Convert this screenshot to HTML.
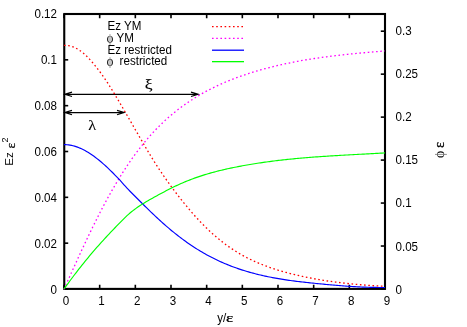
<!DOCTYPE html>
<html><head><meta charset="utf-8"><title>plot</title>
<style>
html,body{margin:0;padding:0;background:#fff;}
body{width:467px;height:327px;overflow:hidden;}
svg{display:block;opacity:0.999;will-change:transform;}
text{font-family:"Liberation Sans",sans-serif;font-size:11.6px;fill:#000;}
.sym{font-family:"Liberation Serif",serif;stroke:#000;stroke-width:0.25px;}
</style></head><body>
<svg width="467" height="327" viewBox="0 0 467 327">
<rect width="467" height="327" fill="#fff"/>
<g stroke="#000" stroke-width="1.6" fill="none">
<path d="M64.00,289.00 v-4.2 M64.00,14.00 v4.2"/>
<path d="M99.67,289.00 v-4.2 M99.67,14.00 v4.2"/>
<path d="M135.33,289.00 v-4.2 M135.33,14.00 v4.2"/>
<path d="M171.00,289.00 v-4.2 M171.00,14.00 v4.2"/>
<path d="M206.67,289.00 v-4.2 M206.67,14.00 v4.2"/>
<path d="M242.33,289.00 v-4.2 M242.33,14.00 v4.2"/>
<path d="M278.00,289.00 v-4.2 M278.00,14.00 v4.2"/>
<path d="M313.67,289.00 v-4.2 M313.67,14.00 v4.2"/>
<path d="M349.33,289.00 v-4.2 M349.33,14.00 v4.2"/>
<path d="M385.00,289.00 v-4.2 M385.00,14.00 v4.2"/>
<path d="M64.00,289.00 h4.2"/>
<path d="M64.00,243.17 h4.2"/>
<path d="M64.00,197.33 h4.2"/>
<path d="M64.00,151.50 h4.2"/>
<path d="M64.00,105.67 h4.2"/>
<path d="M64.00,59.83 h4.2"/>
<path d="M64.00,14.00 h4.2"/>
<path d="M385.00,289.00 h-4.2"/>
<path d="M385.00,246.03 h-4.2"/>
<path d="M385.00,203.06 h-4.2"/>
<path d="M385.00,160.09 h-4.2"/>
<path d="M385.00,117.12 h-4.2"/>
<path d="M385.00,74.16 h-4.2"/>
<path d="M385.00,31.19 h-4.2"/>
</g>
<rect x="64.25" y="14.0" width="320.75" height="274.9" fill="none" stroke="#000" stroke-width="2.1"/>
<g stroke="#000" stroke-width="1.15" fill="none" stroke-linejoin="miter">
<path d="M64.8,94.3H198.2 M72.0,92.1L64.8,94.3L72.0,96.5 M191.0,92.1L198.2,94.3L191.0,96.5"/>
<path d="M64.8,112.55H124.2 M72.0,110.35L64.8,112.55L72.0,114.75 M117.0,110.35L124.2,112.55L117.0,114.75"/>
</g>
<g fill="none" stroke-linejoin="round">
<path d="M64.00,45.41 L65.50,45.37 L67.00,45.45 L68.50,45.63 L70.00,45.92 L71.50,46.33 L73.00,46.84 L74.50,47.45 L76.00,48.18 L77.50,49.00 L79.00,49.93 L80.50,50.96 L82.00,52.09 L83.50,53.31 L85.00,54.63 L86.50,56.04 L88.00,57.54 L89.50,59.13 L91.00,60.79 L92.50,62.52 L94.00,64.31 L95.50,66.16 L97.00,68.06 L98.50,69.99 L100.00,71.97 L101.50,74.00 L103.00,76.08 L104.50,78.22 L106.00,80.43 L107.50,82.71 L109.00,85.05 L110.50,87.44 L112.00,89.86 L113.50,92.32 L115.00,94.81 L116.50,97.31 L118.00,99.83 L119.50,102.37 L121.00,104.92 L122.50,107.48 L124.00,110.05 L125.50,112.63 L127.00,115.22 L128.50,117.81 L130.00,120.41 L131.50,123.01 L133.00,125.61 L134.50,128.22 L136.00,130.82 L137.50,133.42 L139.00,136.01 L140.50,138.60 L142.00,141.19 L143.50,143.76 L145.00,146.32 L146.50,148.87 L148.00,151.39 L149.50,153.89 L151.00,156.36 L152.50,158.80 L154.00,161.20 L155.50,163.56 L157.00,165.89 L158.50,168.19 L160.00,170.45 L161.50,172.68 L163.00,174.89 L164.50,177.06 L166.00,179.21 L167.50,181.33 L169.00,183.42 L170.50,185.49 L172.00,187.53 L173.50,189.55 L175.00,191.55 L176.50,193.52 L178.00,195.47 L179.50,197.40 L181.00,199.30 L182.50,201.19 L184.00,203.05 L185.50,204.89 L187.00,206.71 L188.50,208.51 L190.00,210.28 L191.50,212.03 L193.00,213.75 L194.50,215.45 L196.00,217.12 L197.50,218.77 L199.00,220.38 L200.50,221.97 L202.00,223.53 L203.50,225.07 L205.00,226.57 L206.50,228.05 L208.00,229.50 L209.50,230.92 L211.00,232.32 L212.50,233.68 L214.00,235.02 L215.50,236.32 L217.00,237.60 L218.50,238.86 L220.00,240.08 L221.50,241.28 L223.00,242.45 L224.50,243.59 L226.00,244.71 L227.50,245.80 L229.00,246.86 L230.50,247.90 L232.00,248.91 L233.50,249.90 L235.00,250.86 L236.50,251.80 L238.00,252.72 L239.50,253.61 L241.00,254.47 L242.50,255.32 L244.00,256.14 L245.50,256.94 L247.00,257.72 L248.50,258.48 L250.00,259.22 L251.50,259.94 L253.00,260.64 L254.50,261.33 L256.00,262.00 L257.50,262.65 L259.00,263.28 L260.50,263.90 L262.00,264.50 L263.50,265.09 L265.00,265.66 L266.50,266.22 L268.00,266.77 L269.50,267.31 L271.00,267.83 L272.50,268.34 L274.00,268.83 L275.50,269.32 L277.00,269.80 L278.50,270.26 L280.00,270.71 L281.50,271.16 L283.00,271.59 L284.50,272.01 L286.00,272.43 L287.50,272.83 L289.00,273.23 L290.50,273.62 L292.00,274.00 L293.50,274.37 L295.00,274.73 L296.50,275.08 L298.00,275.43 L299.50,275.77 L301.00,276.10 L302.50,276.43 L304.00,276.75 L305.50,277.06 L307.00,277.36 L308.50,277.66 L310.00,277.95 L311.50,278.24 L313.00,278.52 L314.50,278.79 L316.00,279.06 L317.50,279.32 L319.00,279.58 L320.50,279.83 L322.00,280.08 L323.50,280.32 L325.00,280.55 L326.50,280.78 L328.00,281.01 L329.50,281.23 L331.00,281.44 L332.50,281.65 L334.00,281.85 L335.50,282.05 L337.00,282.25 L338.50,282.44 L340.00,282.62 L341.50,282.80 L343.00,282.98 L344.50,283.15 L346.00,283.32 L347.50,283.48 L349.00,283.64 L350.50,283.80 L352.00,283.95 L353.50,284.09 L355.00,284.23 L356.50,284.37 L358.00,284.51 L359.50,284.64 L361.00,284.77 L362.50,284.89 L364.00,285.01 L365.50,285.13 L367.00,285.24 L368.50,285.35 L370.00,285.46 L371.50,285.57 L373.00,285.67 L374.50,285.77 L376.00,285.86 L377.50,285.95 L379.00,286.04 L380.50,286.13 L382.00,286.22 L383.50,286.30 L385.00,286.38" stroke="#ff0000" stroke-width="1.3" stroke-dasharray="1.6 2.6"/>
<path d="M64.00,289.17 L65.50,285.84 L67.00,282.51 L68.50,279.19 L70.00,275.86 L71.50,272.55 L73.00,269.23 L74.50,265.93 L76.00,262.64 L77.50,259.35 L79.00,256.09 L80.50,252.83 L82.00,249.59 L83.50,246.37 L85.00,243.17 L86.50,240.00 L88.00,236.84 L89.50,233.71 L91.00,230.60 L92.50,227.52 L94.00,224.46 L95.50,221.44 L97.00,218.44 L98.50,215.48 L100.00,212.55 L101.50,209.66 L103.00,206.80 L104.50,203.97 L106.00,201.19 L107.50,198.44 L109.00,195.72 L110.50,193.04 L112.00,190.40 L113.50,187.80 L115.00,185.23 L116.50,182.70 L118.00,180.21 L119.50,177.75 L121.00,175.33 L122.50,172.95 L124.00,170.61 L125.50,168.30 L127.00,166.03 L128.50,163.79 L130.00,161.59 L131.50,159.44 L133.00,157.31 L134.50,155.23 L136.00,153.18 L137.50,151.17 L139.00,149.20 L140.50,147.27 L142.00,145.37 L143.50,143.51 L145.00,141.69 L146.50,139.90 L148.00,138.15 L149.50,136.43 L151.00,134.75 L152.50,133.10 L154.00,131.48 L155.50,129.89 L157.00,128.34 L158.50,126.82 L160.00,125.33 L161.50,123.87 L163.00,122.44 L164.50,121.03 L166.00,119.66 L167.50,118.31 L169.00,116.99 L170.50,115.70 L172.00,114.43 L173.50,113.19 L175.00,111.97 L176.50,110.78 L178.00,109.61 L179.50,108.46 L181.00,107.34 L182.50,106.24 L184.00,105.16 L185.50,104.10 L187.00,103.06 L188.50,102.04 L190.00,101.04 L191.50,100.06 L193.00,99.10 L194.50,98.15 L196.00,97.22 L197.50,96.31 L199.00,95.41 L200.50,94.53 L202.00,93.67 L203.50,92.82 L205.00,91.99 L206.50,91.18 L208.00,90.38 L209.50,89.59 L211.00,88.82 L212.50,88.06 L214.00,87.32 L215.50,86.59 L217.00,85.88 L218.50,85.18 L220.00,84.49 L221.50,83.81 L223.00,83.15 L224.50,82.50 L226.00,81.86 L227.50,81.24 L229.00,80.62 L230.50,80.02 L232.00,79.43 L233.50,78.85 L235.00,78.28 L236.50,77.72 L238.00,77.17 L239.50,76.63 L241.00,76.10 L242.50,75.58 L244.00,75.06 L245.50,74.56 L247.00,74.07 L248.50,73.58 L250.00,73.10 L251.50,72.63 L253.00,72.17 L254.50,71.71 L256.00,71.27 L257.50,70.82 L259.00,70.39 L260.50,69.96 L262.00,69.54 L263.50,69.13 L265.00,68.72 L266.50,68.32 L268.00,67.93 L269.50,67.54 L271.00,67.16 L272.50,66.78 L274.00,66.41 L275.50,66.05 L277.00,65.69 L278.50,65.34 L280.00,64.99 L281.50,64.66 L283.00,64.32 L284.50,63.99 L286.00,63.67 L287.50,63.35 L289.00,63.04 L290.50,62.74 L292.00,62.44 L293.50,62.14 L295.00,61.85 L296.50,61.56 L298.00,61.28 L299.50,61.01 L301.00,60.74 L302.50,60.47 L304.00,60.21 L305.50,59.95 L307.00,59.70 L308.50,59.45 L310.00,59.21 L311.50,58.97 L313.00,58.74 L314.50,58.50 L316.00,58.28 L317.50,58.06 L319.00,57.84 L320.50,57.62 L322.00,57.41 L323.50,57.20 L325.00,57.00 L326.50,56.80 L328.00,56.60 L329.50,56.41 L331.00,56.22 L332.50,56.03 L334.00,55.85 L335.50,55.67 L337.00,55.49 L338.50,55.32 L340.00,55.15 L341.50,54.98 L343.00,54.81 L344.50,54.65 L346.00,54.49 L347.50,54.33 L349.00,54.17 L350.50,54.02 L352.00,53.87 L353.50,53.72 L355.00,53.57 L356.50,53.43 L358.00,53.28 L359.50,53.14 L361.00,53.00 L362.50,52.87 L364.00,52.73 L365.50,52.60 L367.00,52.46 L368.50,52.33 L370.00,52.20 L371.50,52.08 L373.00,51.95 L374.50,51.82 L376.00,51.70 L377.50,51.57 L379.00,51.45 L380.50,51.33 L382.00,51.21 L383.50,51.09 L385.00,50.97" stroke="#ff00ff" stroke-width="1.3" stroke-dasharray="1.6 2.6"/>
<path d="M64.00,144.61 L65.50,144.65 L67.00,144.75 L68.50,144.91 L70.00,145.13 L71.50,145.42 L73.00,145.76 L74.50,146.16 L76.00,146.62 L77.50,147.14 L79.00,147.72 L80.50,148.35 L82.00,149.04 L83.50,149.77 L85.00,150.56 L86.50,151.41 L88.00,152.30 L89.50,153.23 L91.00,154.22 L92.50,155.25 L94.00,156.32 L95.50,157.44 L97.00,158.59 L98.50,159.79 L100.00,161.02 L101.50,162.28 L103.00,163.59 L104.50,164.92 L106.00,166.28 L107.50,167.68 L109.00,169.10 L110.50,170.55 L112.00,172.02 L113.50,173.51 L115.00,175.03 L116.50,176.57 L118.00,178.13 L119.50,179.72 L121.00,181.35 L122.50,183.04 L124.00,184.76 L125.50,186.46 L127.00,188.12 L128.50,189.71 L130.00,191.27 L131.50,192.78 L133.00,194.28 L134.50,195.78 L136.00,197.27 L137.50,198.77 L139.00,200.26 L140.50,201.76 L142.00,203.25 L143.50,204.74 L145.00,206.22 L146.50,207.70 L148.00,209.17 L149.50,210.63 L151.00,212.08 L152.50,213.52 L154.00,214.95 L155.50,216.36 L157.00,217.76 L158.50,219.15 L160.00,220.52 L161.50,221.88 L163.00,223.22 L164.50,224.55 L166.00,225.86 L167.50,227.16 L169.00,228.43 L170.50,229.70 L172.00,230.94 L173.50,232.17 L175.00,233.38 L176.50,234.57 L178.00,235.74 L179.50,236.90 L181.00,238.04 L182.50,239.16 L184.00,240.26 L185.50,241.34 L187.00,242.41 L188.50,243.46 L190.00,244.49 L191.50,245.50 L193.00,246.49 L194.50,247.47 L196.00,248.43 L197.50,249.37 L199.00,250.29 L200.50,251.20 L202.00,252.08 L203.50,252.95 L205.00,253.81 L206.50,254.64 L208.00,255.46 L209.50,256.26 L211.00,257.05 L212.50,257.82 L214.00,258.57 L215.50,259.31 L217.00,260.03 L218.50,260.74 L220.00,261.43 L221.50,262.10 L223.00,262.76 L224.50,263.41 L226.00,264.04 L227.50,264.65 L229.00,265.26 L230.50,265.84 L232.00,266.42 L233.50,266.98 L235.00,267.53 L236.50,268.06 L238.00,268.59 L239.50,269.10 L241.00,269.59 L242.50,270.08 L244.00,270.55 L245.50,271.02 L247.00,271.47 L248.50,271.91 L250.00,272.33 L251.50,272.75 L253.00,273.16 L254.50,273.56 L256.00,273.94 L257.50,274.32 L259.00,274.69 L260.50,275.05 L262.00,275.40 L263.50,275.74 L265.00,276.07 L266.50,276.39 L268.00,276.70 L269.50,277.01 L271.00,277.31 L272.50,277.60 L274.00,277.88 L275.50,278.15 L277.00,278.42 L278.50,278.68 L280.00,278.94 L281.50,279.18 L283.00,279.42 L284.50,279.66 L286.00,279.88 L287.50,280.11 L289.00,280.32 L290.50,280.53 L292.00,280.73 L293.50,280.93 L295.00,281.13 L296.50,281.31 L298.00,281.50 L299.50,281.68 L301.00,281.85 L302.50,282.03 L304.00,282.19 L305.50,282.36 L307.00,282.52 L308.50,282.68 L310.00,282.84 L311.50,283.00 L313.00,283.15 L314.50,283.30 L316.00,283.45 L317.50,283.60 L319.00,283.74 L320.50,283.89 L322.00,284.03 L323.50,284.17 L325.00,284.31 L326.50,284.45 L328.00,284.59 L329.50,284.72 L331.00,284.86 L332.50,284.99 L334.00,285.12 L335.50,285.25 L337.00,285.38 L338.50,285.50 L340.00,285.63 L341.50,285.75 L343.00,285.87 L344.50,285.99 L346.00,286.10 L347.50,286.21 L349.00,286.31 L350.50,286.41 L352.00,286.51 L353.50,286.60 L355.00,286.69 L356.50,286.77 L358.00,286.85 L359.50,286.92 L361.00,286.99 L362.50,287.06 L364.00,287.12 L365.50,287.17 L367.00,287.22 L368.50,287.27 L370.00,287.31 L371.50,287.35 L373.00,287.38 L374.50,287.41 L376.00,287.43 L377.50,287.45 L379.00,287.47 L380.50,287.48 L382.00,287.48 L383.50,287.49 L385.00,287.48" stroke="#0000ff" stroke-width="1.15"/>
<path d="M64.00,289.03 L65.50,286.93 L67.00,284.86 L68.50,282.80 L70.00,280.76 L71.50,278.74 L73.00,276.74 L74.50,274.76 L76.00,272.80 L77.50,270.86 L79.00,268.94 L80.50,267.03 L82.00,265.14 L83.50,263.27 L85.00,261.42 L86.50,259.59 L88.00,257.77 L89.50,255.97 L91.00,254.19 L92.50,252.42 L94.00,250.68 L95.50,248.94 L97.00,247.23 L98.50,245.53 L100.00,243.84 L101.50,242.18 L103.00,240.52 L104.50,238.88 L106.00,237.26 L107.50,235.64 L109.00,234.04 L110.50,232.45 L112.00,230.87 L113.50,229.30 L115.00,227.74 L116.50,226.18 L118.00,224.63 L119.50,223.09 L121.00,221.55 L122.50,220.04 L124.00,218.54 L125.50,217.09 L127.00,215.68 L128.50,214.32 L130.00,213.03 L131.50,211.79 L133.00,210.61 L134.50,209.48 L136.00,208.39 L137.50,207.34 L139.00,206.32 L140.50,205.32 L142.00,204.36 L143.50,203.41 L145.00,202.49 L146.50,201.59 L148.00,200.71 L149.50,199.84 L151.00,198.99 L152.50,198.15 L154.00,197.31 L155.50,196.49 L157.00,195.67 L158.50,194.85 L160.00,194.04 L161.50,193.23 L163.00,192.44 L164.50,191.64 L166.00,190.86 L167.50,190.08 L169.00,189.32 L170.50,188.56 L172.00,187.82 L173.50,187.08 L175.00,186.35 L176.50,185.64 L178.00,184.94 L179.50,184.25 L181.00,183.58 L182.50,182.92 L184.00,182.27 L185.50,181.64 L187.00,181.03 L188.50,180.43 L190.00,179.84 L191.50,179.26 L193.00,178.70 L194.50,178.16 L196.00,177.62 L197.50,177.10 L199.00,176.59 L200.50,176.09 L202.00,175.60 L203.50,175.12 L205.00,174.66 L206.50,174.20 L208.00,173.76 L209.50,173.33 L211.00,172.90 L212.50,172.49 L214.00,172.08 L215.50,171.69 L217.00,171.30 L218.50,170.92 L220.00,170.55 L221.50,170.19 L223.00,169.83 L224.50,169.49 L226.00,169.15 L227.50,168.81 L229.00,168.48 L230.50,168.16 L232.00,167.85 L233.50,167.54 L235.00,167.24 L236.50,166.94 L238.00,166.64 L239.50,166.35 L241.00,166.07 L242.50,165.79 L244.00,165.52 L245.50,165.25 L247.00,164.99 L248.50,164.73 L250.00,164.47 L251.50,164.22 L253.00,163.98 L254.50,163.74 L256.00,163.50 L257.50,163.27 L259.00,163.04 L260.50,162.81 L262.00,162.59 L263.50,162.38 L265.00,162.17 L266.50,161.96 L268.00,161.76 L269.50,161.56 L271.00,161.36 L272.50,161.17 L274.00,160.98 L275.50,160.79 L277.00,160.61 L278.50,160.44 L280.00,160.26 L281.50,160.09 L283.00,159.92 L284.50,159.76 L286.00,159.60 L287.50,159.44 L289.00,159.28 L290.50,159.13 L292.00,158.98 L293.50,158.83 L295.00,158.69 L296.50,158.55 L298.00,158.41 L299.50,158.28 L301.00,158.14 L302.50,158.01 L304.00,157.88 L305.50,157.76 L307.00,157.63 L308.50,157.51 L310.00,157.40 L311.50,157.28 L313.00,157.16 L314.50,157.05 L316.00,156.94 L317.50,156.83 L319.00,156.72 L320.50,156.62 L322.00,156.52 L323.50,156.41 L325.00,156.31 L326.50,156.21 L328.00,156.12 L329.50,156.02 L331.00,155.93 L332.50,155.83 L334.00,155.74 L335.50,155.65 L337.00,155.56 L338.50,155.47 L340.00,155.38 L341.50,155.30 L343.00,155.21 L344.50,155.13 L346.00,155.04 L347.50,154.96 L349.00,154.88 L350.50,154.79 L352.00,154.71 L353.50,154.63 L355.00,154.55 L356.50,154.47 L358.00,154.39 L359.50,154.30 L361.00,154.22 L362.50,154.14 L364.00,154.06 L365.50,153.98 L367.00,153.90 L368.50,153.82 L370.00,153.74 L371.50,153.66 L373.00,153.58 L374.50,153.49 L376.00,153.41 L377.50,153.33 L379.00,153.24 L380.50,153.16 L382.00,153.07 L383.50,152.99 L385.00,152.90" stroke="#00ff00" stroke-width="1.15"/>
</g>
<g fill="none" stroke-width="1.3">
<path d="M212,26.6H244" stroke="#ff0000" stroke-dasharray="1.6 2.6"/>
<path d="M212,38.35H244" stroke="#ff00ff" stroke-dasharray="1.6 2.6"/>
<path d="M212,50.2H244" stroke="#0000ff"/>
<path d="M212,61.65H244" stroke="#00ff00"/>
</g>
<text transform="translate(57.00,294.15) scale(1,1.070)" text-anchor="end">0</text>
<text transform="translate(57.00,247.62) scale(1,1.070)" text-anchor="end">0.02</text>
<text transform="translate(57.00,201.78) scale(1,1.070)" text-anchor="end">0.04</text>
<text transform="translate(57.00,155.95) scale(1,1.070)" text-anchor="end">0.06</text>
<text transform="translate(57.00,110.12) scale(1,1.070)" text-anchor="end">0.08</text>
<text transform="translate(57.00,64.28) scale(1,1.070)" text-anchor="end">0.1</text>
<text transform="translate(57.00,18.45) scale(1,1.070)" text-anchor="end">0.12</text>
<text transform="translate(395.50,293.70) scale(1,1.070)">0</text>
<text transform="translate(395.50,250.56) scale(1,1.070)">0.05</text>
<text transform="translate(395.50,207.43) scale(1,1.070)">0.1</text>
<text transform="translate(395.50,164.29) scale(1,1.070)">0.15</text>
<text transform="translate(395.50,121.16) scale(1,1.070)">0.2</text>
<text transform="translate(395.50,78.02) scale(1,1.070)">0.25</text>
<text transform="translate(395.50,34.89) scale(1,1.070)">0.3</text>
<text transform="translate(65.90,305.20) scale(1,1.070)" text-anchor="middle">0</text>
<text transform="translate(101.57,305.20) scale(1,1.070)" text-anchor="middle">1</text>
<text transform="translate(137.23,305.20) scale(1,1.070)" text-anchor="middle">2</text>
<text transform="translate(172.90,305.20) scale(1,1.070)" text-anchor="middle">3</text>
<text transform="translate(208.57,305.20) scale(1,1.070)" text-anchor="middle">4</text>
<text transform="translate(244.23,305.20) scale(1,1.070)" text-anchor="middle">5</text>
<text transform="translate(279.90,305.20) scale(1,1.070)" text-anchor="middle">6</text>
<text transform="translate(315.57,305.20) scale(1,1.070)" text-anchor="middle">7</text>
<text transform="translate(351.23,305.20) scale(1,1.070)" text-anchor="middle">8</text>
<text transform="translate(386.90,305.20) scale(1,1.070)" text-anchor="middle">9</text>
<text transform="translate(107.50,30.30) scale(1,1.070)">Ez YM</text>
<text transform="translate(116.60,42.00) scale(1,1.070)">YM</text>
<text transform="translate(107.50,53.60) scale(1,1.070)">Ez restricted</text>
<text transform="translate(119.60,65.20) scale(1,1.070)">restricted</text>
<path d="M107.05,39.30 a2.95,3.40 0 1,0 5.90,0 a2.95,3.40 0 1,0 -5.90,0 Z M108.20,39.30 a1.80,2.95 0 1,0 3.60,0 a1.80,2.95 0 1,0 -3.60,0 Z" fill="#111" fill-rule="evenodd"/><path d="M110.00,34.20V44.80" stroke="#444" stroke-width="0.6" fill="none"/>
<path d="M107.05,62.40 a2.95,3.40 0 1,0 5.90,0 a2.95,3.40 0 1,0 -5.90,0 Z M108.20,62.40 a1.80,2.95 0 1,0 3.60,0 a1.80,2.95 0 1,0 -3.60,0 Z" fill="#111" fill-rule="evenodd"/><path d="M110.00,57.30V67.90" stroke="#444" stroke-width="0.6" fill="none"/>
<text class="sym" transform="translate(144.8,89.35) scale(1.17,1)" style="font-size:15px;stroke-width:0.1px">ξ</text>
<text class="sym" transform="translate(88.2,129.7) scale(1.17,1)" style="font-size:14px;stroke-width:0.1px">λ</text>
<text transform="translate(217.30,322.00) scale(1,1.070)">y/</text>
<text class="sym" transform="translate(225.9,322) scale(1.45,1)" style="font-size:11.9px">ε</text>
<g transform="translate(13.2,165.75) rotate(-90)">
<text x="0" y="0">Ez</text>
<text class="sym" x="17.2" y="1.9" style="font-size:13.3px">ε</text>
<text x="23.2" y="-5.5" style="font-size:9px">2</text>
</g>
<path d="M437.10,154.40 a3.55,3.10 0 1,0 7.10,0 a3.55,3.10 0 1,0 -7.10,0 Z M437.55,154.40 a3.10,1.90 0 1,0 6.20,0 a3.10,1.90 0 1,0 -6.20,0 Z" fill="#111" fill-rule="evenodd"/><path d="M435.00,154.40H446.90" stroke="#444" stroke-width="0.6" fill="none"/>
<g transform="translate(444.2,147.8) rotate(-90)">
<text class="sym" transform="scale(1,1.05)" x="-0.3" y="0" style="font-size:14.5px">ε</text>
</g>
</svg>
</body></html>
